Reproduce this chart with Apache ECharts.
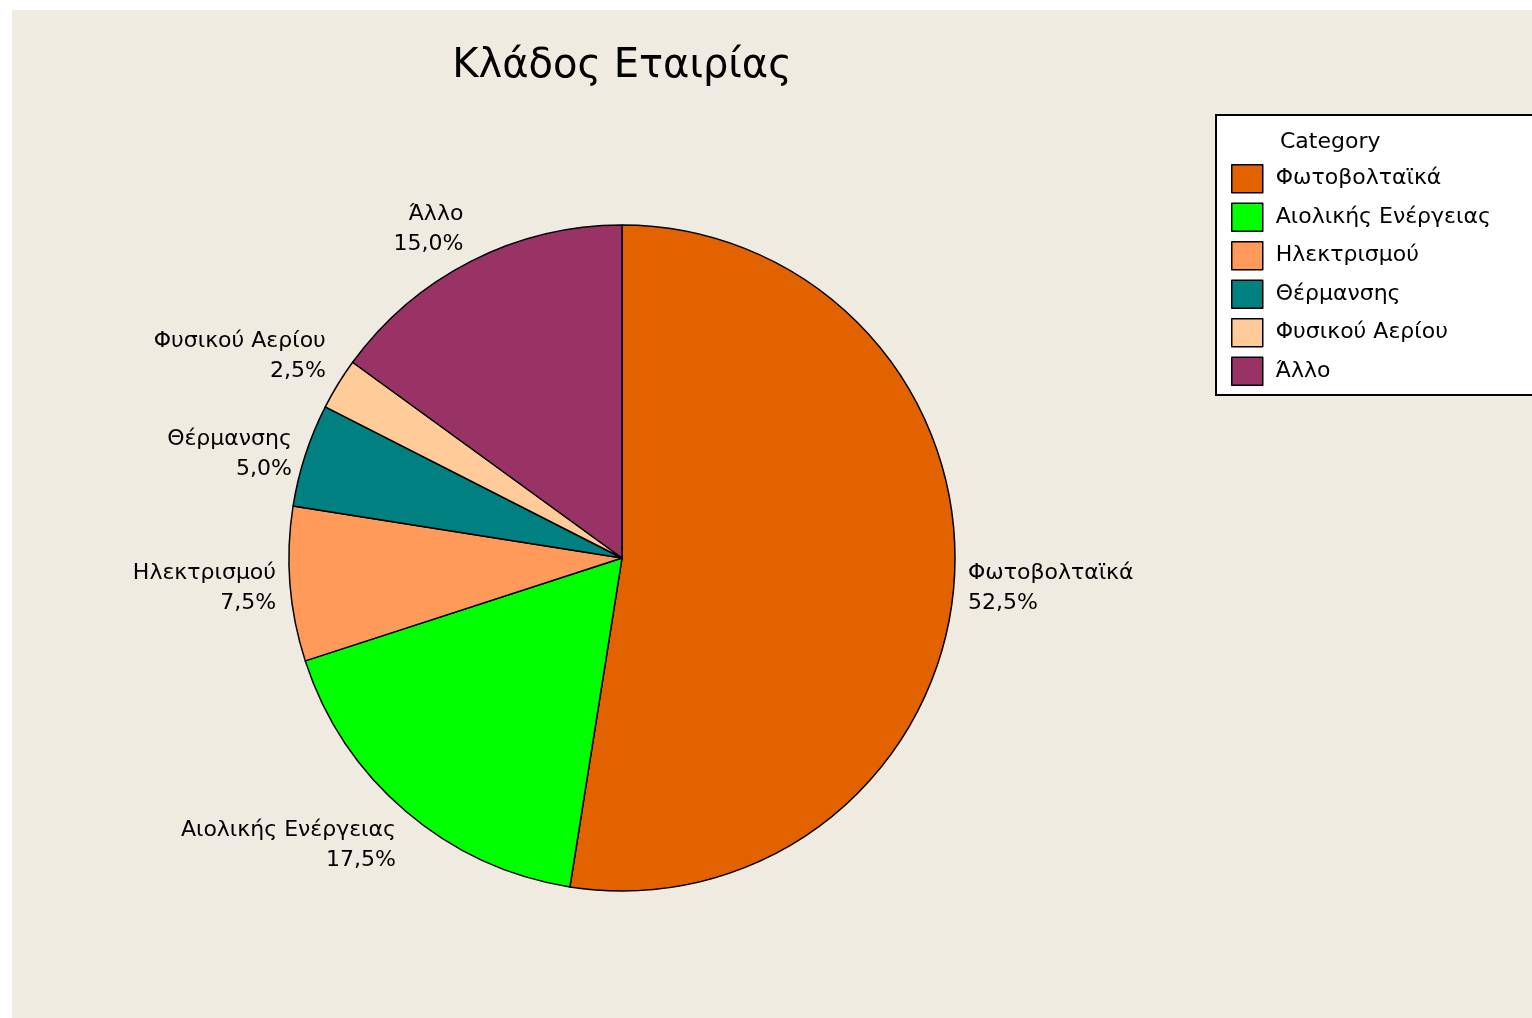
<!DOCTYPE html>
<html>
<head>
<meta charset="utf-8">
<script src="https://cdn.jsdelivr.net/npm/echarts@6/dist/echarts.min.js"></script>
<style>
  html, body { margin: 0; padding: 0; background: #ffffff; }
  #chart { position: absolute; left: 12px; top: 10px; width: 1520px; height: 1008px; }
</style>
</head>
<body>
<div id="chart"></div>
<script>
// Company sector shares (percent)
const categories = ['Φωτοβολταϊκά', 'Αιολικής Ενέργειας', 'Ηλεκτρισμού', 'Θέρμανσης', 'Φυσικού Αερίου', 'Άλλο'];
const shares = [52.5, 17.5, 7.5, 5.0, 2.5, 15.0];
const sliceColors = ['#E36200', '#00FF00', '#FF9A5A', '#008080', '#FFCC99', '#993366'];

const FONT = 'DejaVu Sans';
const CX = 610, CY = 548, R = 333, LINE_LEN = 12;

const chart = echarts.init(document.getElementById('chart'), null, { renderer: 'canvas' });

const option = {
  backgroundColor: '#EFEBE0',
  animation: false,
  title: [
    {
      text: 'Κλάδος Εταιρίας',
      left: 605, top: 32, textAlign: 'center',
      textStyle: { fontFamily: FONT, fontSize: 40, fontWeight: 'normal', color: '#000' }
    },
    {
      text: 'Category',
      left: 1263, top: 116,
      textStyle: { fontFamily: FONT, fontSize: 22, fontWeight: 'normal', color: '#000' }
    }
  ],
  legend: {
    orient: 'vertical',
    left: 1204, top: 105,
    padding: [49, 60, 9, 15],
    backgroundColor: '#ffffff',
    borderColor: '#000',
    borderWidth: 2,
    itemWidth: 31, itemHeight: 28, itemGap: 9,
    icon: 'rect',
    itemStyle: { borderColor: '#000', borderWidth: 1.5 },
    textStyle: { fontFamily: FONT, fontSize: 22, color: '#000', lineHeight: 28, padding: [0, 0, 0, 8] },
    data: categories
  },
  series: [{
    type: 'pie',
    center: [CX, CY],
    radius: R,
    startAngle: 90,
    clockwise: true,
    avoidLabelOverlap: false,
    itemStyle: { borderColor: '#000', borderWidth: 1.5 },
    emphasis: { disabled: true },
    label: {
      show: true,
      position: 'outside',
      distanceToLabelLine: 2,
      fontFamily: FONT, fontSize: 22, lineHeight: 30, color: '#000',
      formatter: p => p.name + '\n' + p.value.toFixed(1).replace('.', ',') + '%'
    },
    labelLine: { show: false, length: LINE_LEN, length2: 0 },
    // labels well above or below the centre sit with their near corner at the rim
    labelLayout: function (p) {
      const r = p.labelRect;
      const f = (r.y + r.height / 2 - CY) / (R + LINE_LEN);
      if (f < -0.45) return { dy: -21 };
      if (f > 0.45) return { dy: 25 };
      return { dy: 3 };
    },
    data: categories.map((c, i) => ({ name: c, value: shares[i], itemStyle: { color: sliceColors[i] } }))
  }]
};

chart.setOption(option);
</script>
</body>
</html>
